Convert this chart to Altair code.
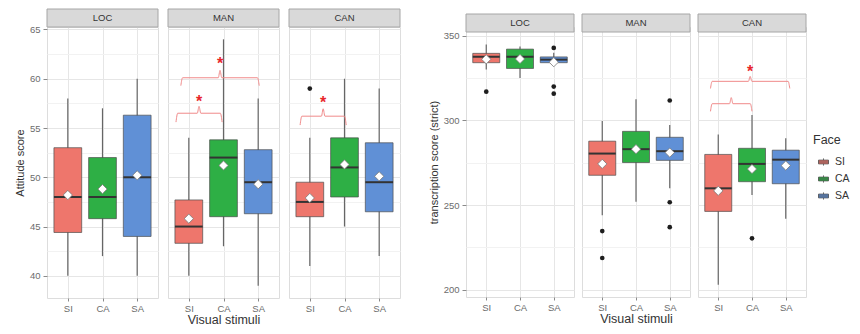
import altair as alt
import pandas as pd

panels = ["LOC", "MAN", "CAN"]
stimuli = ["SI", "CA", "SA"]
colors = ["#EE766C", "#2EAF45", "#6090D6"]

# ---- Attitude score (left chart), order: LOC SI,CA,SA / MAN SI,CA,SA / CAN SI,CA,SA
att_wlo = [40, 42, 40, 40, 43, 39, 41, 45, 42]
att_q1 = [44.4, 45.8, 44.0, 43.3, 46.0, 46.3, 46.0, 48.0, 46.5]
att_med = [48, 48, 50, 45, 52, 49.5, 47.5, 51, 49.5]
att_q3 = [53, 52, 56.3, 47.7, 53.8, 52.8, 49.5, 54, 53.5]
att_whi = [58, 57, 60, 54, 64, 58, 54, 60, 59]
att_mean = [48.2, 48.8, 50.2, 45.8, 51.2, 49.3, 47.9, 51.3, 50.1]
att_out_panel = ["CAN"]
att_out_stim = ["SI"]
att_out_val = [59]
att_br_panel = ["MAN", "MAN", "CAN"]
att_br_x1 = [0.63, 0.77, 0.72]
att_br_x2 = [1.96, 3.03, 2.05]
att_br_y = [56.5, 60.1, 56.2]
att_br_yend = [55.6, 59.3, 55.3]
att_br_ytip = [57.2, 60.85, 56.95]
att_star = [57.95, 61.85, 57.85]

# ---- Transcription score (right chart)
tr_wlo = [330, 325, 332.6, 244, 252, 260, 203, 256, 242]
tr_q1 = [334, 330.6, 334, 267.6, 275.1, 276.4, 246.3, 263.8, 262.6]
tr_med = [337.5, 337.5, 335.8, 280.4, 283, 281.8, 259.9, 274.3, 276.8]
tr_q3 = [339.5, 342, 337.4, 287.7, 293.5, 290, 279.9, 283.5, 282.4]
tr_whi = [344.7, 343.5, 339.8, 299.6, 312.4, 297.3, 291.6, 303.2, 289.4]
tr_mean = [336, 336.2, 334.3, 274.3, 283, 281, 258.4, 271.3, 273.3]
tr_out_panel = ["LOC", "LOC", "LOC", "LOC", "MAN", "MAN", "MAN", "MAN", "MAN", "CAN"]
tr_out_stim = ["SI", "SA", "SA", "SA", "SI", "SI", "SA", "SA", "SA", "CA"]
tr_out_val = [316.9, 342.7, 319.9, 315.7, 234.7, 218.8, 311.7, 251.7, 237, 230.4]
tr_br_panel = ["CAN", "CAN"]
tr_br_x1 = [0.77, 0.77]
tr_br_x2 = [2.0, 3.12]
tr_br_y = [309.8, 323]
tr_br_yend = [305.3, 318.8]
tr_br_ytip = [313.4, 325.9]
tr_star = [None, 330.2]

att_ticks = [40, 42.5, 45, 47.5, 50, 52.5, 55, 57.5, 60, 62.5, 65]
tr_ticks = [200, 225, 250, 275, 300, 325, 350]

FONT = "Liberation Sans"
LABEL_C = "#6B6B6B"
TITLE_C = "#333333"
GRID_MAJ = "#E6E6E6"
GRID_MIN = "#F2F2F2"
HALF_W = 0.4


def box_frame(wlo, q1, med, q3, whi, mean):
    rows = []
    for i, p in enumerate(panels):
        for j, s in enumerate(stimuli):
            k = i * 3 + j
            rows.append(dict(panel=p, stim=s, pos=j + 1, xlo=j + 1 - HALF_W, xhi=j + 1 + HALF_W,
                             wlo=wlo[k], q1=q1[k], med=med[k], q3=q3[k], whi=whi[k], mean=mean[k]))
    return pd.DataFrame(rows)


def out_frame(pn, st, val):
    return pd.DataFrame(dict(panel=pn, stim=st, pos=[stimuli.index(s) + 1 for s in st], val=val))


def bracket_frames(pn, x1, x2, y, yend, ytip, star):
    rows, srows = [], []
    d = 0.05
    for b in range(len(pn)):
        xc = (x1[b] + x2[b]) / 2
        pts = [(x1[b], yend[b]), (x1[b] + d, y[b]), (xc - d, y[b]), (xc, ytip[b]),
               (xc + d, y[b]), (x2[b] - d, y[b]), (x2[b], yend[b])]
        for o, (px, py) in enumerate(pts):
            rows.append(dict(panel=pn[b], bid=b, o=o, bx=px, by=py))
        if star[b] is not None:
            srows.append(dict(panel=pn[b], sx=xc, sy=star[b], t="*"))
    return pd.DataFrame(rows), pd.DataFrame(srows, columns=["panel", "sx", "sy", "t"])


PATH = ("M-1,-0.38L1,-0.38L1,0.38L-1,0.38Z M-1,0L1,0 "
        "M0,-0.38L0,-0.72 M0,0.38L0,0.72")

legend = alt.Legend(title="Face", orient="none", legendX=766, legendY=107,
                    symbolType=PATH, symbolSize=100, symbolStrokeColor="#4D4D4D",
                    symbolStrokeWidth=0.8, symbolOffset=5, labelOffset=6,
                    labelFontSize=10.5, labelColor=TITLE_C, titleFontSize=12.5,
                    titleColor=TITLE_C, titleFontWeight="normal", titlePadding=9,
                    rowPadding=4, clipHeight=13, padding=0, labelFont=FONT, titleFont=FONT)

color_scale = alt.Scale(domain=stimuli, range=colors)


def make_panel(name, box, out, br, st, ydom, yvals, step, ytitle, first, middle, W, H, cover):
    xsc = alt.Scale(domain=[0.4, 3.6], nice=False, zero=False)
    ysc = alt.Scale(domain=ydom, nice=False, zero=False)
    xaxis = alt.Axis(values=[1, 2, 3], labelExpr="['', 'SI', 'CA', 'SA'][datum.value]",
                     title="Visual stimuli" if middle else None, grid=True, gridColor=GRID_MAJ,
                     domain=False, ticks=True, tickSize=3, tickColor="#8A8A8A",
                     labelPadding=2, labelFontSize=9.5, labelColor=LABEL_C, labelFont=FONT,
                     titleFontSize=12.5, titleColor=TITLE_C, titleFont=FONT,
                     titleFontWeight="normal", titlePadding=1)
    test = f"datum.value % {step} === 0"
    grid_color = {"condition": {"test": test, "value": GRID_MAJ}, "value": GRID_MIN}
    if first:
        yaxis = alt.Axis(values=yvals, labelExpr=f"{test} ? datum.label : ''",
                         title=ytitle, grid=True, gridColor=grid_color, domain=False,
                         ticks=True, tickSize=4, tickColor="#8A8A8A",
                         tickOpacity={"condition": {"test": test, "value": 1}, "value": 0},
                         labelPadding=3, labelFontSize=9.5, labelColor=LABEL_C, labelFont=FONT,
                         titleFontSize=11, titleColor=TITLE_C, titleFont=FONT,
                         titleFontWeight="normal", titlePadding=4)
    else:
        yaxis = alt.Axis(values=yvals, labels=False, ticks=False, title=None, grid=True,
                         gridColor=grid_color, domain=False)

    def X(f):
        return alt.X(f, type="quantitative", scale=xsc, axis=xaxis)

    def Y(f):
        return alt.Y(f, type="quantitative", scale=ysc, axis=yaxis)

    b = box[box.panel == name]
    layers = []
    base = alt.Chart(b)
    layers.append(base.mark_rule(color="#666666", strokeWidth=1.2).encode(
        x=X("pos"), y=Y("wlo"), y2="whi"))
    layers.append(base.mark_rect(stroke="#4D4D4D", strokeWidth=0.7).encode(
        x=X("xlo"), x2="xhi", y=Y("q1"), y2="q3",
        fill=alt.Fill("stim:N", scale=color_scale, legend=legend)))
    layers.append(base.mark_rule(color="#333333", strokeWidth=2).encode(
        x=X("xlo"), x2="xhi", y=Y("med")))
    layers.append(base.mark_point(shape="diamond", filled=True, fill="white", stroke="#777777",
                                  strokeWidth=0.8, size=85, opacity=1).encode(
        x=X("pos"), y=Y("mean")))
    o = out[out.panel == name]
    if len(o):
        layers.append(alt.Chart(o).mark_circle(color="#1E1E1E", size=22, opacity=1).encode(
            x=X("pos"), y=Y("val")))
    bb = br[br.panel == name]
    if len(bb):
        layers.append(alt.Chart(bb).mark_line(color="#F08A8A", strokeWidth=1,
                                              interpolate="monotone").encode(
            x=X("bx"), y=Y("by"), detail="bid:N", order="o:Q"))
    ss = st[st.panel == name]
    if len(ss):
        layers.append(alt.Chart(ss).mark_text(color="#E8262B", fontSize=16, fontWeight="bold",
                                              baseline="middle", dy=3, font=FONT).encode(
            x=X("sx"), y=Y("sy"), text="t:N"))
    strip = alt.Chart(pd.DataFrame({"p": [name]}))
    layers.append(strip.mark_rect(fill="#D9D9D9", stroke="#A6A6A6", strokeWidth=1).encode(
        x=alt.value(0), x2=alt.value(W), y=alt.value(-18 + cover), y2=alt.value(cover)))
    layers.append(strip.mark_text(fontSize=9.5, color=TITLE_C, font=FONT, baseline="middle").encode(
        x=alt.value(W / 2), y=alt.value(-9 + cover), text="p:N"))
    return alt.layer(*layers).properties(width=W, height=H + cover)


att_box = box_frame(att_wlo, att_q1, att_med, att_q3, att_whi, att_mean)
att_out = out_frame(att_out_panel, att_out_stim, att_out_val)
att_br, att_st = bracket_frames(att_br_panel, att_br_x1, att_br_x2, att_br_y, att_br_yend,
                                att_br_ytip, att_star)
tr_box = box_frame(tr_wlo, tr_q1, tr_med, tr_q3, tr_whi, tr_mean)
tr_out = out_frame(tr_out_panel, tr_out_stim, tr_out_val)
tr_br, tr_st = bracket_frames(tr_br_panel, tr_br_x1, tr_br_x2, tr_br_y, tr_br_yend,
                              tr_br_ytip, tr_star)

ATT_H = 271
TR_H = 265
TR_COVER = 5
tr_lo, tr_hi = 195.8, 352.1
tr_dom = [tr_lo, tr_hi + TR_COVER * (tr_hi - tr_lo) / TR_H]

left = alt.hconcat(*[
    make_panel(p, att_box, att_out, att_br, att_st, [37.75, 65.25], att_ticks, 5,
               "Attitude score", i == 0, i == 1, 111, ATT_H, 0)
    for i, p in enumerate(panels)], spacing=8)

right = alt.hconcat(*[
    make_panel(p, tr_box, tr_out, tr_br, tr_st, tr_dom, tr_ticks, 50,
               "transcription score (strict)", i == 0, i == 1, 108, TR_H, TR_COVER)
    for i, p in enumerate(panels)], spacing=6)

PAD_L, PAD_T = 39, 19
chart = alt.hconcat(left, right, spacing=26).properties(
    autosize=alt.AutoSizeParams(type="none"),
    padding={"left": PAD_L, "top": PAD_T, "right": 844 - PAD_L, "bottom": 318 - PAD_T}
).configure_view(stroke="#A6A6A6", strokeWidth=1).configure(font=FONT)

chart.save("out.html", embed_options={"renderer": "svg", "actions": False})
